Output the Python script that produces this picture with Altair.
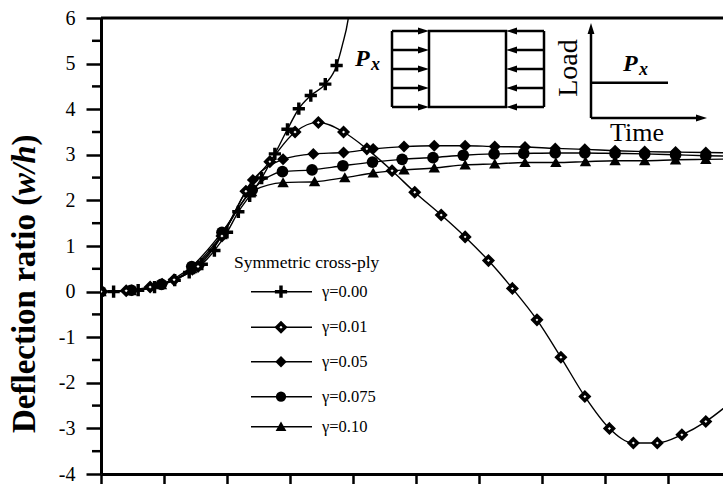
import altair as alt
import pandas as pd

# ---- deflection histories (time in axis-tick units, w/h) ----
G000_T = [0.0, 0.2, 0.59, 0.85, 1.17, 1.4, 1.6, 1.8, 2.0, 2.18, 2.36, 2.55, 2.76, 2.96, 3.14, 3.33, 3.56, 3.74]
G000_W = [0.0, 0.0, 0.03, 0.1, 0.25, 0.42, 0.6, 0.9, 1.3, 1.75, 2.1, 2.49, 3.02, 3.56, 4.01, 4.30, 4.55, 4.96]
# continuation of the undamped curve past its last marker (runs off the top)
G000_TAIL_T = [3.83, 3.92, 3.98]
G000_TAIL_W = [5.4, 5.95, 6.6]

G001_T = [0.0, 0.4, 0.78, 1.16, 1.54, 1.92, 2.30, 2.68, 3.08, 3.45, 3.85, 4.22, 4.62, 4.98, 5.40, 5.78,
          6.15, 6.53, 6.92, 7.30, 7.68, 8.07, 8.45, 8.83, 9.22, 9.60, 9.98]
G001_W = [0.0, 0.02, 0.1, 0.26, 0.55, 1.22, 2.2, 2.85, 3.50, 3.71, 3.50, 3.13, 2.65, 2.18, 1.68, 1.20,
          0.68, 0.07, -0.62, -1.44, -2.30, -3.00, -3.32, -3.32, -3.14, -2.85, -2.45]

G005_T = [0.0, 0.49, 0.97, 1.45, 1.93, 2.41, 2.89, 3.37, 3.85, 4.32, 4.81, 5.29, 5.78, 6.25, 6.73, 7.21,
          7.68, 8.16, 8.63, 9.12, 9.60, 10.08]
G005_W = [0.0, 0.03, 0.17, 0.48, 1.25, 2.45, 2.90, 3.02, 3.05, 3.13, 3.18, 3.20, 3.20, 3.18, 3.17, 3.14,
          3.12, 3.09, 3.07, 3.06, 3.05, 3.04]

G0075_T = [0.0, 0.48, 0.96, 1.44, 1.92, 2.40, 2.88, 3.35, 3.84, 4.31, 4.78, 5.27, 5.75, 6.24, 6.71, 7.21,
           7.68, 8.16, 8.63, 9.12, 9.60, 10.08]
G0075_W = [0.0, 0.03, 0.16, 0.55, 1.3, 2.23, 2.63, 2.67, 2.76, 2.84, 2.90, 2.94, 2.99, 3.02, 3.03, 3.04,
           3.04, 3.03, 3.02, 3.0, 2.98, 2.97]

G010_T = [0.0, 0.48, 0.96, 1.44, 1.92, 2.39, 2.89, 3.39, 3.87, 4.32, 4.81, 5.29, 5.78, 6.25, 6.73, 7.22,
          7.69, 8.16, 8.63, 9.12, 9.60, 10.08]
G010_W = [0.0, 0.02, 0.15, 0.5, 1.25, 2.19, 2.39, 2.41, 2.50, 2.60, 2.67, 2.71, 2.78, 2.80, 2.83, 2.83,
          2.85, 2.87, 2.87, 2.89, 2.90, 2.91]

SERIES = ["γ=0.00", "γ=0.01", "γ=0.05", "γ=0.075", "γ=0.10"]
HOLLOW = "γ=0.01"
SOLID = [s for s in SERIES if s != HOLLOW]
LEGEND_TITLE = "Symmetric cross-ply"
Y_TICKS = list(range(-4, 7))
Y_MINOR = [v + 0.5 for v in range(-4, 6)]
X_TICKS = list(range(0, 10))

rows = []
for name, ts, ws in zip(SERIES, [G000_T, G001_T, G005_T, G0075_T, G010_T],
                        [G000_W, G001_W, G005_W, G0075_W, G010_W]):
    for t, w in zip(ts, ws):
        rows.append({"series": name, "t": t, "w": w, "marker": True})
for t, w in zip(G000_TAIL_T, G000_TAIL_W):
    rows.append({"series": SERIES[0], "t": t, "w": w, "marker": False})
df = pd.DataFrame(rows)

# ---- marker styles ----
PLUS = "M-1,-0.28H-0.28V-1H0.28V-0.28H1V0.28H0.28V1H-0.28V0.28H-1Z"
DIAMOND = "M0,-1L1,0L0,1L-1,0Z"
TRIANGLE = "M0,-0.95L1,0.8L-1,0.8Z"
SOLID_SHAPES = [PLUS, DIAMOND, "circle", TRIANGLE]
SOLID_SIZES = [150, 130, 105, 115]
HOLLOW_SIZE = 64
HOLLOW_STROKE = 3.6

FONT = "Liberation Serif"
W, H = 622, 456
PX_PER_T = 63

x_scale = alt.Scale(domain=[0, W / PX_PER_T], nice=False, zero=False)
y_scale = alt.Scale(domain=[-4, 6], nice=False, zero=False)

X = alt.X("t:Q", scale=x_scale,
          axis=alt.Axis(values=X_TICKS, labels=False, title=None, grid=False,
                        tickSize=12, tickWidth=2.5, tickColor="black",
                        domainWidth=3, domainColor="black"))
Y = alt.Y("w:Q", scale=y_scale,
          axis=alt.Axis(values=Y_TICKS, title=None, grid=False, tickSize=15, tickWidth=2.5,
                        tickColor="black", domainWidth=3, domainColor="black",
                        labelExpr="'' + datum.value",
                        labelFont=FONT, labelFontSize=20, labelColor="black", labelPadding=11))

base = alt.Chart(df)
lines = base.mark_line(color="black", strokeWidth=1.4, interpolate="monotone", clip=True).encode(
    x=X, y=Y, detail="series:N", order="t:Q")

points = base.transform_filter(
    f"datum.marker && datum.series != '{HOLLOW}'").mark_point(
    filled=True, color="black", opacity=1, clip=True).encode(
    x=X, y=Y,
    shape=alt.Shape("series:N", scale=alt.Scale(domain=SOLID, range=SOLID_SHAPES), legend=None),
    size=alt.Size("series:N", scale=alt.Scale(domain=SOLID, range=SOLID_SIZES), legend=None),
)

hollow = base.transform_filter(f"datum.marker && datum.series == '{HOLLOW}'").mark_point(
    filled=False, shape=DIAMOND, size=HOLLOW_SIZE, fill="white", stroke="black",
    strokeWidth=HOLLOW_STROKE, opacity=1, fillOpacity=1, strokeOpacity=1, clip=True,
).encode(x=X, y=Y)

minor = alt.Chart(pd.DataFrame({"w": Y_MINOR})).mark_rule(color="black", strokeWidth=2.5).encode(
    y=alt.Y("w:Q", scale=y_scale), x=alt.value(-9), x2=alt.value(0))

top = alt.Chart(pd.DataFrame({"w": [6]})).mark_rule(color="black", strokeWidth=3).encode(
    y=alt.Y("w:Q", scale=y_scale))

ONE = pd.DataFrame({"a": [0]})


def hline(x1, x2, y, w=2.5):
    return alt.Chart(ONE).mark_rule(color="black", strokeWidth=w).encode(
        x=alt.value(x1), x2=alt.value(x2), y=alt.value(y))


def vline(x, y1, y2, w=2.5):
    return alt.Chart(ONE).mark_rule(color="black", strokeWidth=w).encode(
        x=alt.value(x), y=alt.value(y1), y2=alt.value(y2))


def head(x, y, angle):
    # filled arrowhead, tip pointing along +x before rotation
    return alt.Chart(ONE).mark_point(
        shape="M1,0L-1,-0.62L-1,0.62Z", filled=True, color="black", opacity=1,
        size=121, angle=angle, strokeWidth=0).encode(x=alt.value(x), y=alt.value(y))


def label(txt, x, y, size, weight="normal", style="normal", angle=0, align="left",
          baseline="alphabetic"):
    return alt.Chart(ONE).mark_text(
        text=txt, font=FONT, fontSize=size, fontWeight=weight, fontStyle=style,
        angle=angle, align=align, baseline=baseline, color="black").encode(
        x=alt.value(x), y=alt.value(y))


layers = [lines, points, hollow, minor, top]

# y-axis title, upright text with italic w/h
layers += [
    label("Deflection ratio (", -66, 415, 33, weight="bold", angle=270),
    label("w/h", -66, 177, 33, weight="bold", style="italic", angle=270),
    label(")", -66, 127.5, 33, weight="bold", angle=270),
]

# plate with in-plane compressive load
arrow_ys = [13, 32, 51, 70, 89]
layers += [
    alt.Chart(ONE).mark_rect(fill="white", stroke="black", strokeWidth=2.5).encode(
        x=alt.value(328), x2=alt.value(405), y=alt.value(13), y2=alt.value(89)),
    vline(291, 13, 89),
    vline(443, 13, 89),
]
for ay in arrow_ys:
    layers += [hline(291, 320, ay), head(322.5, ay, 0),
               hline(413, 443, ay), head(410.5, ay, 180)]
layers += [
    label("P", 254, 48, 24, weight="bold", style="italic"),
    label("x", 270, 52, 18, weight="bold", style="italic"),
]

# step load history sketch
layers += [
    vline(490, 100, 12),
    head(490, 10.5, 270),
    hline(490, 598, 100),
    head(600.5, 100, 0),
    hline(490, 567, 64.7),
    label("Load", 476, 50, 28, angle=270, align="center"),
    label("Time", 509, 123, 26),
    label("P", 522, 53, 24, weight="bold", style="italic"),
    label("x", 538, 57, 18, weight="bold", style="italic"),
]

# legend
layers.append(label(LEGEND_TITLE, 133, 250, 17.5))
legend_ys = [273.7, 309.3, 343.7, 378.7, 408.7]
solid_style = dict(zip(SOLID, zip(SOLID_SHAPES, SOLID_SIZES)))
for name, ly in zip(SERIES, legend_ys):
    layers += [hline(150, 211, ly, 1.4), label(name, 221, ly, 16.5, baseline="middle")]
    if name == HOLLOW:
        sym = alt.Chart(ONE).mark_point(
            filled=False, shape=DIAMOND, size=HOLLOW_SIZE, fill="white", stroke="black",
            strokeWidth=HOLLOW_STROKE, opacity=1, fillOpacity=1, strokeOpacity=1)
    else:
        shp, sz = solid_style[name]
        sym = alt.Chart(ONE).mark_point(shape=shp, filled=True, color="black", opacity=1, size=sz)
    layers.append(sym.encode(x=alt.value(180), y=alt.value(ly)))

chart = alt.layer(*layers).properties(
    width=W, height=H,
    autosize=alt.AutoSizeParams(type="none"),
    padding={"left": 101, "top": 18, "right": 0, "bottom": 10},
    background="white",
).configure_view(stroke=None).configure_axis(labelFont=FONT)

chart.save("out.html", embed_options={"renderer": "svg", "actions": False})
